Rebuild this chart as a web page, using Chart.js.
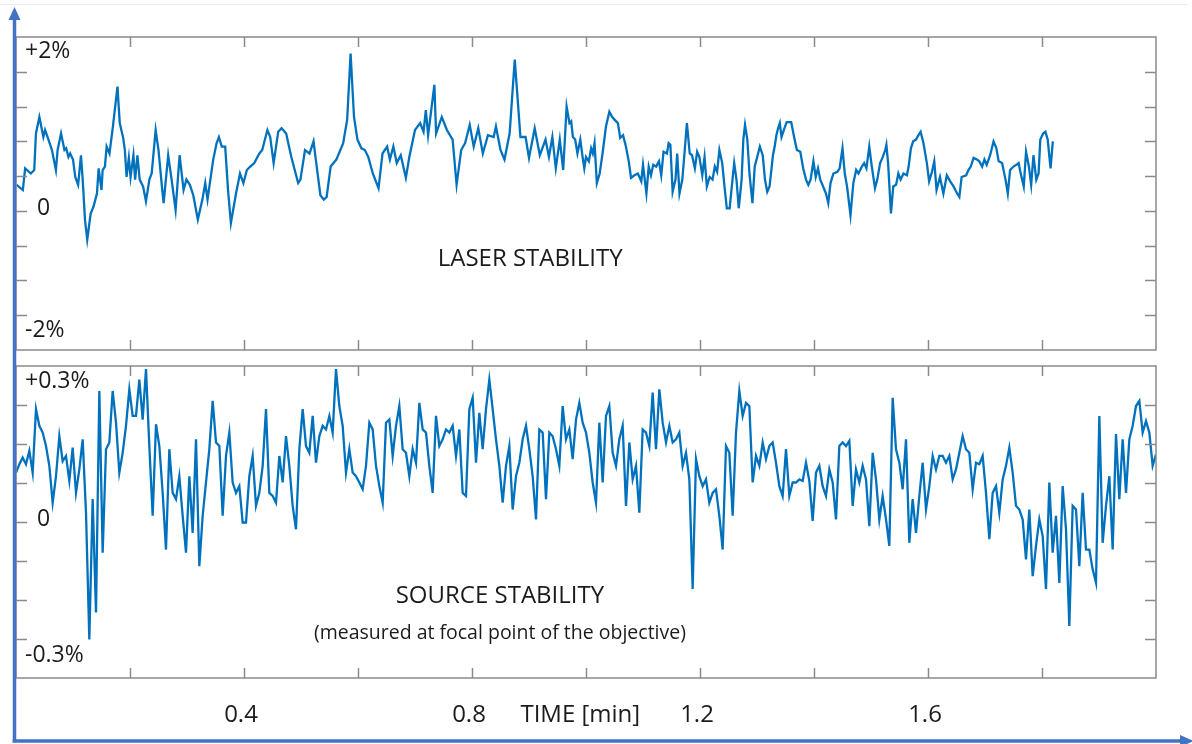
<!DOCTYPE html>
<html>
<head>
<meta charset="utf-8">
<script src="https://cdn.jsdelivr.net/npm/chart.js@4.4.0/dist/chart.umd.min.js"></script>
<style>
  html, body { margin: 0; padding: 0; background: #fff; }
  #wrap { position: relative; width: 1192px; height: 744px; overflow: hidden; }
  #wrap canvas { position: absolute; left: 0; top: 0; }
</style>
</head>
<body>
<div id="wrap">
  <canvas id="laser" width="1192" height="744"></canvas>
  <canvas id="source" width="1192" height="744"></canvas>
</div>
<script>
// Laser / source stability traces, time in minutes, deviation in %

// laser stability (top panel)
const laserTime = [
  0.001,0.012,0.016,0.026,0.032,0.035,0.041,0.048,0.051,0.057,
  0.063,0.070,0.073,0.079,0.085,0.088,0.092,0.095,0.100,0.104,
  0.109,0.114,0.117,0.121,0.125,0.131,0.136,0.142,0.145,0.150,
  0.152,0.156,0.159,0.164,0.170,0.178,0.182,0.188,0.191,0.194,
  0.198,0.201,0.206,0.209,0.213,0.217,0.223,0.228,0.234,0.238,
  0.245,0.250,0.256,0.259,0.267,0.273,0.280,0.287,0.294,0.299,
  0.305,0.311,0.319,0.327,0.332,0.336,0.346,0.352,0.356,0.361,
  0.367,0.372,0.377,0.386,0.393,0.399,0.405,0.411,0.418,0.427,
  0.432,0.441,0.446,0.452,0.460,0.466,0.474,0.483,0.495,0.499,
  0.507,0.515,0.522,0.526,0.534,0.540,0.545,0.552,0.562,0.574,
  0.581,0.587,0.593,0.599,0.606,0.612,0.618,0.626,0.636,0.643,
  0.651,0.656,0.662,0.668,0.675,0.684,0.690,0.700,0.709,0.715,
  0.719,0.723,0.734,0.737,0.747,0.756,0.766,0.773,0.781,0.788,
  0.796,0.803,0.811,0.819,0.828,0.838,0.842,0.850,0.857,0.866,
  0.875,0.885,0.894,0.900,0.910,0.919,0.929,0.935,0.941,0.947,
  0.954,0.960,0.966,0.971,
  0.974,0.977,0.981,0.985,0.990,0.994,0.997,1.000,1.005,1.009,
  1.012,1.015,1.019,1.024,1.029,1.035,1.041,1.046,1.050,1.056,
  1.060,1.065,1.070,1.075,1.079,1.085,1.091,1.097,1.100,1.106,
  1.110,1.114,1.118,1.123,1.128,1.132,1.136,1.142,1.145,1.148,
  1.152,1.157,1.160,1.164,1.169,1.173,1.177,1.182,1.186,1.191,
  1.195,1.199,1.204,1.208,1.212,1.217,1.222,1.226,1.230,1.234,
  1.239,1.243,1.247,1.252,1.257,1.260,1.264,1.268,1.273,1.276,
  1.279,1.283,1.287,1.292,1.296,1.300,1.305,1.310,1.314,1.318,
  1.322,1.328,1.331,1.334,1.337,1.340,1.343,1.347,1.352,1.360,
  1.366,1.370,1.376,1.381,1.386,1.390,1.394,1.399,1.403,1.407,
  1.411,1.416,1.421,1.425,1.429,1.434,1.441,1.445,1.450,1.454,
  1.458,1.464,1.469,1.474,1.478,1.484,1.488,1.492,1.497,1.501,
  1.507,1.511,1.516,1.520,1.525,1.527,1.530,1.535,1.539,1.544,
  1.548,1.552,1.557,1.563,1.566,1.570,1.574,1.579,1.583,1.587,
  1.592,1.598,1.602,1.607,1.611,1.615,1.621,1.627,1.633,1.639,
  1.645,1.651,1.655,1.659,1.667,1.671,1.675,1.680,1.686,1.690,
  1.695,1.699,1.703,1.709,1.715,1.720,1.724,1.730,1.736,1.740,
  1.744,1.750,1.755,1.759,1.762,1.768,1.772,1.777,1.781,1.785,
  1.790,1.794,1.797,1.802,1.806,1.810,1.815,1.819
];
const laserValue = [
  0.30,0.24,0.49,0.43,0.47,0.89,1.08,0.85,0.93,0.82,
  0.70,0.47,0.70,0.89,0.70,0.72,0.62,0.66,0.59,0.39,
  0.30,0.64,0.36,-0.10,-0.33,-0.03,0.05,0.20,0.49,0.24,
  0.47,0.51,0.74,0.66,0.97,1.43,1.01,0.84,0.70,0.39,
  0.61,0.39,0.64,0.36,0.64,0.36,0.28,0.11,0.36,0.43,
  0.93,0.70,0.28,0.09,0.64,0.36,0.01,0.64,0.24,0.36,
  0.30,0.18,-0.10,0.13,0.32,0.13,0.59,0.78,0.85,0.74,
  0.74,0.24,-0.14,0.20,0.43,0.32,0.47,0.51,0.55,0.66,
  0.70,0.93,0.85,0.55,0.91,0.95,0.89,0.62,0.32,0.36,
  0.70,0.66,0.80,0.59,0.18,0.13,0.16,0.51,0.59,0.78,
  1.05,1.81,1.08,0.82,0.72,0.70,0.62,0.43,0.26,0.66,
  0.74,0.59,0.74,0.55,0.64,0.38,0.62,0.93,1.01,0.91,
  1.16,0.87,1.45,0.89,1.08,0.93,0.82,0.30,0.70,0.78,
  0.99,0.74,0.95,0.66,0.87,0.85,0.97,0.70,0.59,0.89,
  1.74,0.85,0.85,0.61,0.95,0.64,0.82,0.62,0.85,0.49,
  0.82,0.47,1.20,1.01,
  1.03,0.85,0.82,0.66,0.82,0.62,0.49,0.62,0.57,0.72,
  0.66,0.78,0.32,0.43,0.66,0.97,1.14,1.08,1.05,1.01,
  0.84,0.87,0.74,0.57,0.38,0.41,0.43,0.34,0.53,0.20,
  0.51,0.41,0.53,0.51,0.57,0.41,0.68,0.66,0.78,0.76,
  0.22,0.36,0.66,0.20,0.36,0.68,1.01,0.66,0.64,0.49,
  0.68,0.62,0.41,0.62,0.28,0.39,0.36,0.51,0.45,0.70,
  0.55,0.28,0.03,0.03,0.36,0.55,0.36,0.03,0.36,0.82,
  0.99,0.82,0.41,0.09,0.51,0.61,0.74,0.64,0.36,0.22,
  0.28,0.64,0.74,0.87,0.95,1.01,0.85,0.93,1.02,1.02,
  0.82,0.70,0.68,0.49,0.36,0.30,0.36,0.57,0.39,0.49,
  0.36,0.28,0.20,0.09,0.32,0.43,0.45,0.49,0.72,0.43,
  0.28,-0.05,0.32,0.47,0.43,0.51,0.55,0.49,0.74,0.53,
  0.26,0.36,0.55,0.61,0.70,0.76,0.55,-0.03,0.28,0.30,
  0.43,0.36,0.43,0.41,0.51,0.72,0.80,0.82,0.87,0.91,
  0.78,0.55,0.34,0.45,0.57,0.24,0.39,0.20,0.41,0.34,
  0.28,0.20,0.16,0.39,0.41,0.47,0.51,0.61,0.59,0.57,
  0.51,0.59,0.53,0.64,0.80,0.72,0.57,0.55,0.36,0.20,
  0.47,0.51,0.53,0.55,0.45,0.28,0.68,0.51,0.30,0.64,
  0.36,0.43,0.82,0.89,0.91,0.82,0.49,0.80
];

// source stability (bottom panel), evenly sampled over the full 2 min
const sourceDuration = 2.0;
const sourceValue = [
  0.095,0.111,0.124,0.111,0.137,0.095,0.217,0.185,0.172,0.146,
  0.108,0.037,0.088,0.165,0.117,0.127,0.079,0.143,0.056,0.101,
  0.159,0.018,-0.226,0.044,-0.174,0.252,-0.059,0.140,0.153,0.252,
  0.191,0.095,0.133,0.185,0.255,0.204,0.204,0.274,0.197,0.294,
  0.146,0.012,0.188,0.146,0.056,-0.053,0.140,0.056,0.044,0.088,
  0.012,-0.059,0.088,-0.021,0.159,-0.085,0.012,0.076,0.140,0.233,
  0.153,0.146,0.012,0.127,0.172,0.076,0.056,0.069,-0.001,-0.001,
  0.088,0.127,0.031,0.056,0.108,0.217,0.056,0.050,0.037,0.127,
  0.076,0.165,0.108,0.031,-0.014,0.140,0.217,0.146,0.133,0.204,
  0.114,0.165,0.185,0.178,0.204,0.172,0.294,0.223,0.185,0.095,
  0.140,0.095,0.088,0.076,0.063,0.108,0.191,0.178,0.108,0.069,
  0.037,0.191,0.197,0.127,0.185,0.223,0.140,0.133,0.088,0.140,
  0.114,0.229,0.178,0.172,0.108,0.056,0.204,0.146,0.159,0.178,
  0.172,0.185,0.127,0.178,0.056,0.050,0.217,0.239,0.114,0.210,
  0.140,0.217,0.274,0.217,0.159,0.108,0.037,0.108,0.146,0.024,
  0.088,0.114,0.159,0.185,0.140,0.088,0.005,0.178,0.172,0.044,
  0.172,0.165,0.140,0.108,0.223,0.159,0.178,0.121,0.197,0.229,
  0.191,0.172,0.133,0.076,0.037,0.191,0.076,0.204,0.223,0.133,
  0.108,0.159,0.185,0.031,0.153,0.082,0.108,0.018,0.178,0.172,
  0.146,0.249,0.140,0.255,0.191,0.153,0.185,0.153,0.159,0.172,
  0.108,0.133,0.082,-0.129,0.121,0.088,0.069,0.082,0.037,0.056,
  0.063,0.012,-0.053,0.146,0.133,0.012,0.172,0.252,0.204,0.229,
  0.223,0.076,0.127,0.108,0.153,0.121,0.146,0.153,0.114,0.069,
  0.050,0.140,0.050,0.076,0.076,0.082,
  0.079,0.114,0.079,0.002,0.095,0.108,0.069,0.050,0.101,0.076,
  0.005,0.146,0.153,0.146,0.156,0.031,0.101,0.076,0.108,0.082,
  -0.008,0.133,0.082,0.005,0.050,0.005,-0.046,0.239,0.140,0.114,
  0.063,0.159,-0.040,0.044,-0.021,0.050,0.114,0.024,0.069,0.127,
  0.101,0.127,0.127,0.114,0.127,0.082,0.101,0.133,0.165,0.140,
  0.133,0.063,0.114,0.111,0.127,0.056,-0.033,0.056,0.069,0.018,
  0.082,0.108,0.143,0.095,0.031,0.024,0.005,-0.072,0.024,-0.104,
  -0.046,0.005,-0.027,-0.129,0.076,-0.059,0.012,-0.117,0.069,-0.014,
  -0.200,0.031,0.024,-0.085,0.056,-0.053,-0.053,-0.091,-0.117,0.204,
  -0.040,0.031,0.088,-0.053,0.169,0.044,0.159,0.056,0.159,0.185,
  0.223,0.233,0.172,0.194,0.172,0.108,0.130
];

// axis ticks and labels
const timeTicks = [0.2, 0.4, 0.6, 0.8, 1.0, 1.2, 1.4, 1.6, 1.8];
const timeLabelValues = [0.4, 0.8, 1.2, 1.6];
const timeLabels = ["0.4", "0.8", "1.2", "1.6"];
const timeTitle = "TIME [min]";
const laserTicks = [-1.2, -0.8, -0.4, 0, 0.4, 0.8, 1.2, 1.6];
const laserLabels = ["+2%", "0", "-2%"];
const sourceTicks = [-0.225, -0.15, -0.075, 0, 0.075, 0.15, 0.225];
const sourceLabels = ["+0.3%", "0", "-0.3%"];
const laserTitle = ["LASER STABILITY"];
const sourceTitle = ["SOURCE STABILITY", "(measured at focal point of the objective)"];

const LINE = "#0072BD";
const FRAME = "#8a8a8a";
const AXIS = "#4472C4";
const INK = "#1b1b1b";
const FACE = "'Open Sans', sans-serif";
const LABEL_FONT = "23px " + FACE;
const TITLE_FONTS = ["24px " + FACE, "19.5px " + FACE];
const TIME_FONT = "24px " + FACE;

// where the annotation texts sit, in each panel's own data coordinates
const laserLabelPos = [1.83, 0.03, -1.37];
const sourceLabelPos = [0.271, 0.004, -0.256];
const labelIndent = [9, 21, 9];
const laserTitlePos = [{ x: 0.902, y: -0.56 }];
const sourceTitlePos = [{ x: 0.849, y: -0.143 }, { x: 0.849, y: -0.215 }];

const framePlugin = {
  id: "frame",
  afterDatasetsDraw(chart, args, o) {
    const { ctx, chartArea: a, scales: { x, y } } = chart;
    ctx.save();
    ctx.strokeStyle = FRAME;
    ctx.lineWidth = 1.5;
    ctx.strokeRect(a.left, a.top, a.right - a.left, a.bottom - a.top);
    ctx.beginPath();
    o.xTicks.forEach(v => {
      const px = Math.round(x.getPixelForValue(v)) + 0.5;
      ctx.moveTo(px, a.top); ctx.lineTo(px, a.top + 10);
      ctx.moveTo(px, a.bottom); ctx.lineTo(px, a.bottom - 10);
    });
    o.yTicks.forEach(v => {
      const py = Math.round(y.getPixelForValue(v)) + 0.5;
      ctx.moveTo(a.left, py); ctx.lineTo(a.left + 11, py);
      ctx.moveTo(a.right, py); ctx.lineTo(a.right - 11, py);
    });
    ctx.stroke();

    ctx.fillStyle = INK;
    ctx.font = LABEL_FONT;
    ctx.textBaseline = "middle";
    ctx.textAlign = "left";
    o.yLabels.forEach((t, i) => {
      ctx.fillText(t, a.left + labelIndent[i], y.getPixelForValue(o.yLabelPos[i]));
    });
    ctx.textAlign = "center";
    o.titles.forEach((t, i) => {
      const p = o.titlePos[i];
      ctx.font = TITLE_FONTS[i];
      ctx.fillText(t, x.getPixelForValue(p.x), y.getPixelForValue(p.y));
    });

    if (o.timeAxis) {
      const ty = a.bottom + 37;
      ctx.font = TIME_FONT;
      timeLabels.forEach((t, i) => ctx.fillText(t, x.getPixelForValue(timeLabelValues[i]) - 3, ty));
      ctx.fillText(timeTitle, x.getPixelForValue(0.99), ty);

      // hand drawn blue axes with arrow heads
      ctx.strokeStyle = AXIS;
      ctx.fillStyle = AXIS;
      ctx.lineWidth = 3.5;
      ctx.beginPath();
      ctx.moveTo(14.5, 741); ctx.lineTo(14.5, 18);
      ctx.moveTo(12.5, 741); ctx.lineTo(1182, 741);
      ctx.stroke();
      ctx.beginPath();
      ctx.moveTo(14.5, 7); ctx.lineTo(8.5, 20); ctx.lineTo(20.5, 20); ctx.closePath();
      ctx.fill();
      ctx.beginPath();
      ctx.moveTo(1194, 741); ctx.lineTo(1180, 735); ctx.lineTo(1180, 747); ctx.closePath();
      ctx.fill();
      ctx.strokeStyle = "#ececec";
      ctx.lineWidth = 1;
      ctx.beginPath();
      ctx.moveTo(0, 4.5); ctx.lineTo(1188, 4.5);
      ctx.stroke();
    }
    ctx.restore();
  }
};

function makePanel(id, points, yMin, yMax, padding, frame) {
  return new Chart(document.getElementById(id), {
    type: "line",
    data: {
      datasets: [{
        data: points,
        borderColor: LINE,
        borderWidth: 2.3,
        pointRadius: 0,
        tension: 0,
        fill: false
      }]
    },
    options: {
      responsive: false,
      animation: false,
      devicePixelRatio: 1,
      layout: { padding },
      plugins: { legend: { display: false }, tooltip: { enabled: false }, frame },
      scales: {
        x: { type: "linear", min: 0, max: 2.0, display: false },
        y: { type: "linear", min: yMin, max: yMax, display: false }
      }
    },
    plugins: [framePlugin]
  });
}

const laserPoints = laserTime.map((t, i) => ({ x: t, y: laserValue[i] }));
const sourceStep = sourceDuration / (sourceValue.length - 1);
const sourcePoints = sourceValue.map((v, i) => ({ x: i * sourceStep, y: v }));

makePanel("laser", laserPoints, -1.6, 2.0,
  { left: 16, top: 37, right: 36, bottom: 394 },
  { xTicks: timeTicks, yTicks: laserTicks, yLabels: laserLabels, yLabelPos: laserLabelPos,
    titles: laserTitle, titlePos: laserTitlePos, timeAxis: false });

makePanel("source", sourcePoints, -0.3, 0.3,
  { left: 16, top: 366, right: 36, bottom: 66 },
  { xTicks: timeTicks, yTicks: sourceTicks, yLabels: sourceLabels, yLabelPos: sourceLabelPos,
    titles: sourceTitle, titlePos: sourceTitlePos, timeAxis: true });
</script>
</body>
</html>
